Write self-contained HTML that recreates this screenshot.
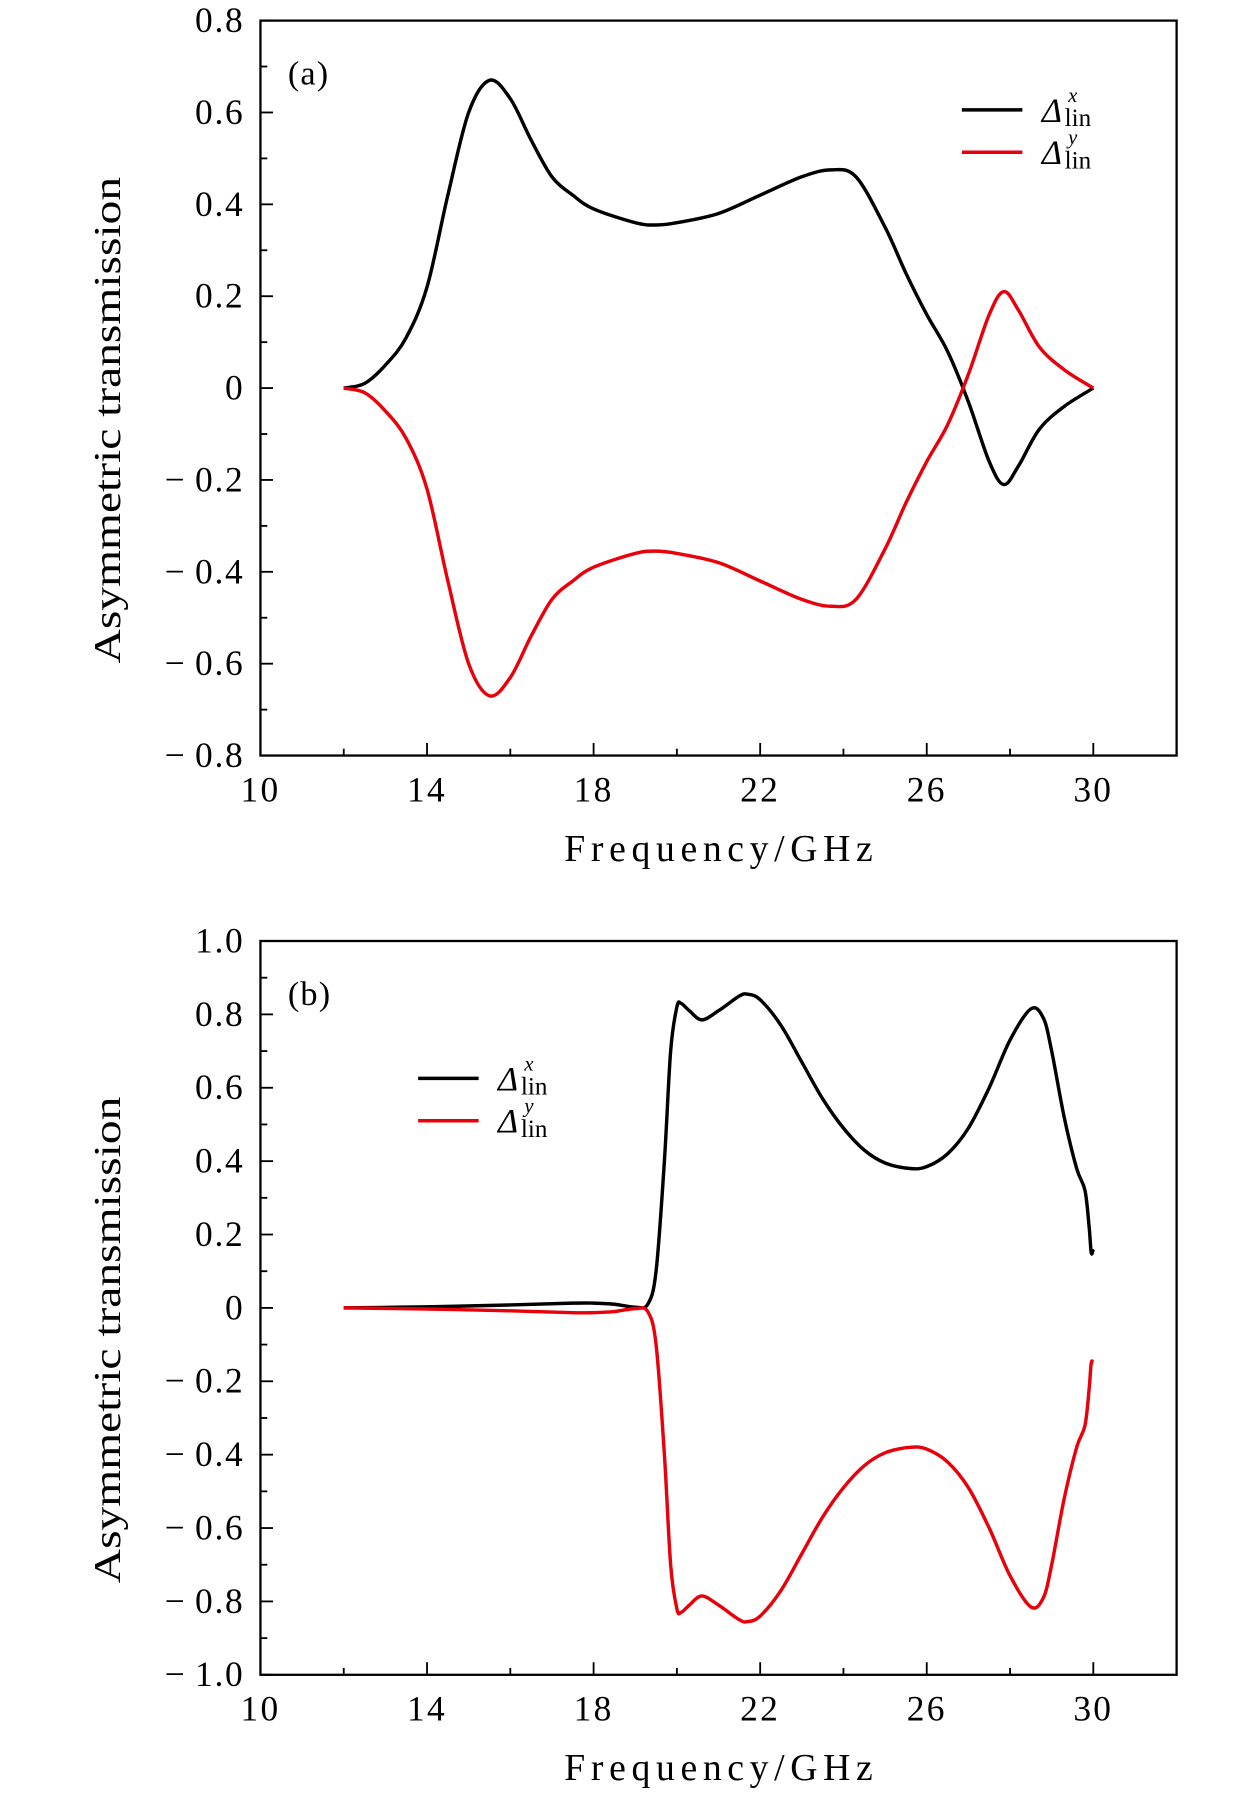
<!DOCTYPE html>
<html><head><meta charset="utf-8"><style>
html,body{margin:0;padding:0;background:#fff;}
svg{display:block;font-family:"Liberation Serif",serif;}
</style></head><body>
<svg id="fig" width="1260" height="1795" viewBox="0 0 1103 1568" preserveAspectRatio="none" xmlns="http://www.w3.org/2000/svg"></svg>
<script>
const xTicks=[10,14,18,22,26,30];
const yTicksA=[-0.8,-0.6,-0.4,-0.2,0,0.2,0.4,0.6,0.8];
const yTicksB=[-1.0,-0.8,-0.6,-0.4,-0.2,0,0.2,0.4,0.6,0.8,1.0];
const freqA=[12,12.5,13,13.5,14,14.5,15,15.5,16,16.5,17,17.5,18,19,19.5,20,21,22,23,23.7,24.3,25,25.5,26,26.5,27,27.5,27.85,28.2,28.7,29.3,30];
const axA=[0,0.01,0.05,0.11,0.22,0.42,0.6,0.67,0.63,0.54,0.46,0.42,0.39,0.36,0.355,0.36,0.38,0.42,0.46,0.475,0.46,0.35,0.25,0.16,0.08,-0.03,-0.16,-0.21,-0.17,-0.09,-0.04,0];
const ayA=[0,-0.01,-0.05,-0.11,-0.22,-0.42,-0.6,-0.67,-0.63,-0.54,-0.46,-0.42,-0.39,-0.36,-0.355,-0.36,-0.38,-0.42,-0.46,-0.475,-0.46,-0.35,-0.25,-0.16,-0.08,0.03,0.16,0.21,0.17,0.09,0.04,0];
const freqB=[12,14,16,17.5,18,18.5,19,19.3,19.5,19.7,19.85,20,20.1,20.3,20.6,21,21.5,21.7,22,22.5,23,23.5,24,24.5,25,25.6,26,26.5,27,27.5,28,28.5,28.8,29,29.3,29.6,29.8,29.9,29.95,30];
const bxB=[0,0.003,0.008,0.013,0.013,0.01,0.002,0.01,0.1,0.4,0.7,0.82,0.83,0.81,0.785,0.81,0.85,0.855,0.84,0.77,0.67,0.57,0.49,0.43,0.395,0.38,0.385,0.42,0.49,0.6,0.73,0.815,0.79,0.7,0.52,0.38,0.32,0.22,0.15,0.16];
const byB=[0,-0.003,-0.008,-0.013,-0.013,-0.01,-0.002,-0.01,-0.1,-0.4,-0.7,-0.82,-0.83,-0.81,-0.785,-0.81,-0.85,-0.855,-0.84,-0.77,-0.67,-0.57,-0.49,-0.43,-0.395,-0.38,-0.385,-0.42,-0.49,-0.6,-0.73,-0.815,-0.79,-0.7,-0.52,-0.38,-0.32,-0.22,-0.15,-0.15];

const NS="http://www.w3.org/2000/svg";
const svg=document.getElementById('fig');
function mk(tag,attrs,parent){const e=document.createElementNS(NS,tag);for(const k in attrs)e.setAttribute(k,attrs[k]);(parent||svg).appendChild(e);return e;}
function fmt(v){if(Math.abs(v)<1e-9)return "0";const s=Math.abs(v).toFixed(1);return (v<0?"\u2212\u2009":"")+s;}
function smooth(pts){let d="M"+pts[0][0]+","+pts[0][1];for(let i=0;i<pts.length-1;i++){const p0=pts[Math.max(0,i-1)],p1=pts[i],p2=pts[i+1],p3=pts[Math.min(pts.length-1,i+2)];const c1=[p1[0]+(p2[0]-p0[0])/6,p1[1]+(p2[1]-p0[1])/6],c2=[p2[0]-(p3[0]-p1[0])/6,p2[1]-(p3[1]-p1[1])/6];d+=" C"+c1[0].toFixed(2)+","+c1[1].toFixed(2)+" "+c2[0].toFixed(2)+","+c2[1].toFixed(2)+" "+p2[0].toFixed(2)+","+p2[1].toFixed(2);}return d;}

function panel(id,top,bottom,ymin,ymax,yTicks,freq,sx,sy,label,legX,legY){
  const L=228,R=1030,xmin=10,xmax=32;
  const X=v=>L+(v-xmin)/(xmax-xmin)*(R-L);
  const Y=v=>bottom-(v-ymin)/(ymax-ymin)*(bottom-top);
  const g=mk('g',{});
  
  
  const frame=mk('rect',{x:L,y:top,width:R-L,height:bottom-top,fill:'none',stroke:'#000','stroke-width':2},g);
  
  
  for(let v=10;v<=32;v+=2){const major=(v-10)%4===0;const t=mk('line',{x1:X(v),x2:X(v),y1:bottom,y2:bottom-(major?11:6),stroke:'#000','stroke-width':1.6},g);
    
    }
  xTicks.forEach(v=>{const t=mk('text',{x:X(v),y:bottom+40,'font-size':31,'text-anchor':'middle','letter-spacing':2},g);t.textContent=v;
    
    });
  for(let i=0;i<yTicks.length;i++){const v=yTicks[i];const t=mk('line',{x1:L,x2:L+11,y1:Y(v),y2:Y(v),stroke:'#000','stroke-width':1.6},g);
    
    
    if(i<yTicks.length-1){const m=(v+yTicks[i+1])/2;const tm=mk('line',{x1:L,x2:L+6,y1:Y(m),y2:Y(m),stroke:'#000','stroke-width':1.6},g);
      
      }
    const tl=mk('text',{x:L-14,y:Y(v)+10,'font-size':31,'text-anchor':'end','letter-spacing':1.5},g);tl.textContent=fmt(v);
    
    }
  const xt=mk('text',{x:494,y:bottom+92,'font-size':33,textLength:270,lengthAdjust:'spacing'},g);xt.textContent="Frequency/GHz";
  
  
  const cy=(top+bottom)/2+28;
  const yt=mk('text',{x:0,y:0,'font-size':33,'text-anchor':'middle',textLength:425,lengthAdjust:'spacingAndGlyphs',transform:`translate(105,${cy}) rotate(-90)`},g);yt.textContent="Asymmetric transmission";
  
  
  const pl=mk('text',{x:252,y:top+56,'font-size':30,'letter-spacing':1},g);pl.textContent=label;
  
  
  const p1=mk('path',{d:smooth(freq.map((f,i)=>[X(f),Y(sx[i])])),fill:'none',stroke:'#000','stroke-width':3},g);
  
  
  const p2=mk('path',{d:smooth(freq.map((f,i)=>[X(f),Y(sy[i])])),fill:'none',stroke:'#e8000b','stroke-width':3},g);
  
  
  [['x','#000',0],['y','#e8000b',37]].forEach(([s,c,dy])=>{
    const lg=mk('g',{},g);
    
    
    mk('line',{x1:legX,x2:legX+53,y1:legY+dy,y2:legY+dy,stroke:c,'stroke-width':3},lg);
    const t=mk('text',{x:legX+70,y:legY+dy+10,'font-size':30,'font-style':'italic'},lg);t.textContent="\u0394";
    const sp=mk('text',{x:legX+93,y:legY+dy-7,'font-size':18,'font-style':'italic'},lg);sp.textContent=s;
    const sb=mk('text',{x:legX+90,y:legY+dy+14,'font-size':22},lg);sb.textContent="lin";
  });
}
panel('a',18,660,-0.8,0.8,yTicksA,freqA,axA,ayA,"(a)",842,96);
panel('b',822,1463,-1.0,1.0,yTicksB,freqB,bxB,byB,"(b)",366,942);
</script>
</body></html>
